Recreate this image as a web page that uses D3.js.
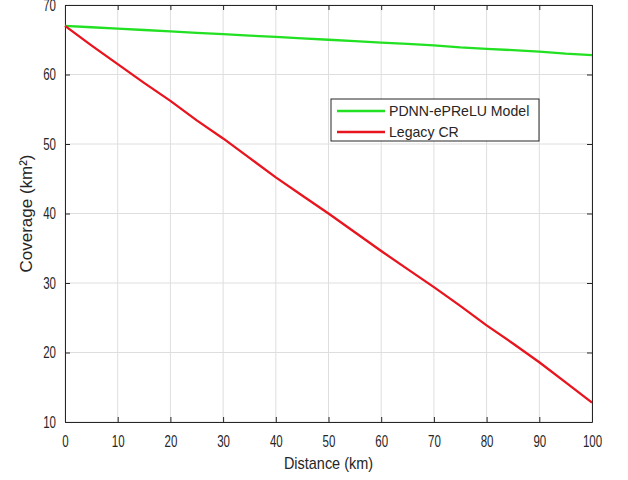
<!DOCTYPE html>
<html>
<head>
<meta charset="utf-8">
<script src="https://cdn.jsdelivr.net/npm/d3@7"></script>
<style>
  body { margin: 0; background: #fff; }
  svg { display: block; font-family: "Liberation Sans", Arial, sans-serif; }
</style>
</head>
<body>
<div id="chart"></div>
<script>
// distance in km
var distance = [0, 5, 10, 15, 20, 25, 30, 35, 40, 45, 50, 55, 60, 65, 70, 75, 80, 85, 90, 95, 100];
// coverage km^2
var pdnnCoverage = [67.0, 66.8, 66.6, 66.4, 66.2, 66.0, 65.8, 65.6, 65.4, 65.2, 65.0, 64.8, 64.6, 64.4, 64.2, 63.9, 63.7, 63.5, 63.3, 63.0, 62.8];
var legacyCoverage = [67.0, 64.2, 61.5, 58.8, 56.2, 53.4, 50.8, 48.0, 45.2, 42.6, 40.0, 37.3, 34.6, 32.0, 29.4, 26.7, 23.9, 21.3, 18.6, 15.7, 12.8];
var xTicks = [0, 10, 20, 30, 40, 50, 60, 70, 80, 90, 100];
var yTicks = [10, 20, 30, 40, 50, 60, 70];
var seriesNames = ["PDNN-ePReLU Model", "Legacy CR"];
var seriesColors = ["#22e022", "#e8141e"];

var width = 628, height = 480;
var margin = {left: 65, right: 36, top: 5, bottom: 58};
var innerW = width - margin.left - margin.right;
var innerH = height - margin.top - margin.bottom;
var axisColor = "#262626";

var svg = d3.select("#chart").append("svg")
    .attr("width", width)
    .attr("height", height);

var g = svg.append("g")
    .attr("transform", "translate(" + margin.left + "," + margin.top + ")");

var x = d3.scaleLinear().domain([0, 100]).range([0, innerW]);
var y = d3.scaleLinear().domain([10, 70]).range([innerH, 0]);

// squeeze text horizontally, the original looks narrow
function squeeze(sel, k) {
    sel.each(function() {
        var len = this.getComputedTextLength();
        d3.select(this).attr("textLength", len * k).attr("lengthAdjust", "spacingAndGlyphs");
    });
}

// grid
g.append("g").selectAll("line")
    .data(xTicks)
    .enter().append("line")
    .attr("x1", function(d) { return x(d); })
    .attr("x2", function(d) { return x(d); })
    .attr("y1", 0).attr("y2", innerH)
    .attr("stroke", "#dedede").attr("stroke-width", 1);

g.append("g").selectAll("line")
    .data(yTicks)
    .enter().append("line")
    .attr("y1", function(d) { return y(d); })
    .attr("y2", function(d) { return y(d); })
    .attr("x1", 0).attr("x2", innerW)
    .attr("stroke", "#dedede").attr("stroke-width", 1);

// axes, ticks pointing inside
var xAxis = g.append("g")
    .attr("transform", "translate(0," + innerH + ")")
    .call(d3.axisBottom(x).tickValues(xTicks).tickSizeInner(-5).tickSizeOuter(0).tickPadding(14));
var yAxis = g.append("g")
    .call(d3.axisLeft(y).tickValues(yTicks).tickSizeInner(-5).tickSizeOuter(0).tickPadding(14));
g.append("g")
    .call(d3.axisTop(x).tickValues(xTicks).tickSizeInner(-5).tickSizeOuter(0).tickFormat(""));
g.append("g")
    .attr("transform", "translate(" + innerW + ",0)")
    .call(d3.axisRight(y).tickValues(yTicks).tickSizeInner(-5).tickSizeOuter(0).tickFormat(""));

g.selectAll(".domain").attr("stroke", axisColor);
g.selectAll(".tick line").attr("stroke", axisColor);

xAxis.selectAll("text")
    .attr("y", 25).attr("dy", 0)
    .attr("fill", axisColor)
    .style("font-size", "16px");
yAxis.selectAll("text")
    .attr("x", -9)
    .attr("fill", axisColor)
    .style("font-size", "16px");
squeeze(xAxis.selectAll("text"), 0.72);
squeeze(yAxis.selectAll("text"), 0.72);

// lines
var lineGen = d3.line()
    .x(function(d) { return x(d[0]); })
    .y(function(d) { return y(d[1]); });

var series = [pdnnCoverage, legacyCoverage];
series.forEach(function(vals, i) {
    g.append("path")
        .datum(distance.map(function(dd, j) { return [dd, vals[j]]; }))
        .attr("fill", "none")
        .attr("stroke", seriesColors[i])
        .attr("stroke-width", 2.3)
        .attr("stroke-linejoin", "round")
        .attr("d", lineGen);
});

// axis labels
var xl = svg.append("text")
    .attr("x", margin.left + innerW / 2)
    .attr("y", 469)
    .attr("text-anchor", "middle")
    .attr("fill", axisColor)
    .style("font-size", "17px")
    .text("Distance (km)");
squeeze(xl, 0.85);

svg.append("text")
    .attr("transform", "translate(32," + (margin.top + innerH / 2) + ") rotate(-90)")
    .attr("text-anchor", "middle")
    .attr("fill", axisColor)
    .style("font-size", "17px")
    .text("Coverage (km²)");

// legend
var legend = svg.append("g").attr("transform", "translate(331,99)");
legend.append("rect")
    .attr("width", 208).attr("height", 42)
    .attr("fill", "#fff")
    .attr("stroke", axisColor).attr("stroke-width", 1);
seriesNames.forEach(function(name, i) {
    var ly = 12 + i * 21;
    legend.append("line")
        .attr("x1", 6).attr("x2", 54)
        .attr("y1", ly).attr("y2", ly)
        .attr("stroke", seriesColors[i]).attr("stroke-width", 2.3);
    var t = legend.append("text")
        .attr("x", 58).attr("y", ly + 5)
        .attr("fill", axisColor)
        .style("font-size", "15px")
        .text(name);
    squeeze(t, 0.94);
});
</script>
</body>
</html>
